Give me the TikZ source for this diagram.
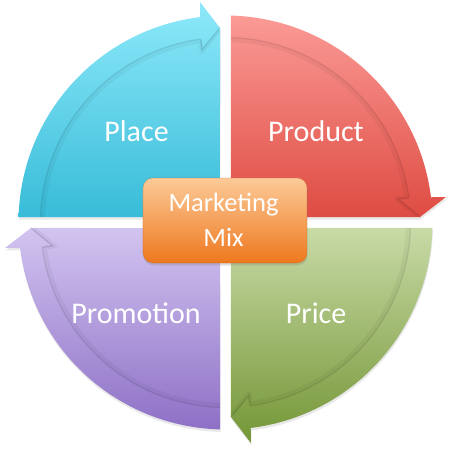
\documentclass[tikz,border=0pt]{standalone}
\usepackage{fontspec}
\setmainfont{Carlito}
\usetikzlibrary{shadows}
\definecolor{cyanT}{RGB}{142,233,250}
\definecolor{cyanB}{RGB}{56,188,216}
\definecolor{redT}{RGB}{251,154,150}
\definecolor{redB}{RGB}{222,76,66}
\definecolor{greenT}{RGB}{200,218,166}
\definecolor{greenB}{RGB}{116,150,54}
\definecolor{purT}{RGB}{210,196,240}
\definecolor{purB}{RGB}{142,112,198}
\definecolor{orT}{RGB}{252,202,152}
\definecolor{orB}{RGB}{238,120,30}
\begin{document}
\begin{tikzpicture}[x=1pt,y=1pt,
  quad/.style={draw=none, drop shadow={opacity=0.18, shadow xshift=0.5pt, shadow yshift=-2.5pt}},
  innerline/.style={draw=black, draw opacity=0.11, line width=1.2pt, line join=round},
  innerglow/.style={draw=black, draw opacity=0.045, line width=4pt, line join=round},
  lbl/.style={text=white, font=\fontsize{30}{36}\selectfont, inner sep=0pt, anchor=base},
  ctxt/.style={text=white, font=\fontsize{26.5}{30}\selectfont, inner sep=0pt, anchor=base},
  centerbox/.style={rounded corners=10pt, minimum width=164pt, minimum height=85pt,
    top color=orT, bottom color=orB, draw=orB!70!black, draw opacity=0.25, line width=0.6pt,
    drop shadow={opacity=0.25, shadow xshift=0.5pt, shadow yshift=-2.5pt}}
]
\useasboundingbox (-225.5,-228.5) rectangle (225.5,222.5);
\foreach \r/\ct/\cb in {0/cyanT/cyanB, 90/redT/redB, 180/greenT/greenB, 270/purT/purB} {
  \path[quad, top color=\ct, bottom color=\cb]
    (135-\r:7.78) -- (178.48-\r:207)
    arc[start angle=178.48-\r, end angle=97-\r, radius=207]
    -- (96.6-\r:222) -- (91.62-\r:194.58) -- cycle;
  \draw[innerglow] (178.2-\r:182.5)
    arc[start angle=178.2-\r, end angle=97.9-\r, radius=182.5]
    -- (97.9-\r:172) -- (91.9-\r:192);
  \draw[innerline] (178.3-\r:185)
    arc[start angle=178.3-\r, end angle=97.7-\r, radius=185]
    -- (97.76-\r:174.1) -- (91.62-\r:194.58);
}
\node[lbl] (place) at (-89, 80.8) {Place};
\node[lbl] (product) at (90.5, 80.8) {Product};
\node[lbl] (promotion) at (-89.5, -100.8) {Promotion};
\node[lbl] (price) at (90.5, -100.8) {Price};
\node[centerbox] (mix) at (-0.5, 2) {};
\node[ctxt] (mk) at (-2, 10.8) {Marketing};
\node[ctxt] (mx) at (-2, -24.2) {Mix};
\end{tikzpicture}
\end{document}
